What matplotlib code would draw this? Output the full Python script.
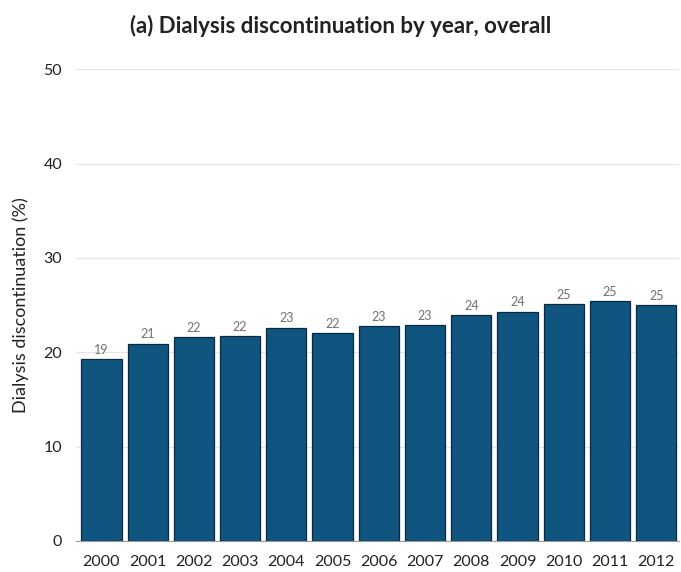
import numpy as np
import matplotlib.pyplot as plt

years = ['2000', '2001', '2002', '2003', '2004', '2005', '2006',
         '2007', '2008', '2009', '2010', '2011', '2012']
discontinued = [19.3, 20.9, 21.6, 21.7, 22.6, 22.0, 22.8,
                22.9, 23.9, 24.3, 25.1, 25.4, 25.0]

plt.rcParams['font.family'] = ['Lato', 'DejaVu Sans']

fig = plt.figure(figsize=(6.81, 5.72), dpi=100)
ax = fig.add_axes([0.1116, 0.0542, 0.886, 0.8248])

x = np.arange(len(years))
bars = ax.bar(x, discontinued, width=0.87, color='#0f5580',
              edgecolor='#0b2a40', linewidth=0.9, zorder=3)
for b, v in zip(bars, discontinued):
    ax.text(b.get_x() + b.get_width() / 2, v + 0.35, f'{v:.0f}',
            ha='center', va='bottom', fontsize=9, color='#707070')

ax.set_xlim(-0.55, len(years) - 0.5)
ax.set_ylim(0, 50)
ax.set_xticks(x)
ax.set_xticklabels(years)
ax.set_yticks(np.arange(0, 51, 10))
ax.tick_params(length=0, labelsize=11.5, colors='#222222')
ax.tick_params(axis='x', pad=10)
ax.tick_params(axis='y', pad=10)
ax.yaxis.grid(True, color='#e6e6e6', linewidth=0.9, zorder=0)

for s in ['top', 'right', 'left']:
    ax.spines[s].set_visible(False)
ax.spines['bottom'].set_color('#999999')

ax.set_ylabel('Dialysis discontinuation (%)', fontsize=13, color='#222222', labelpad=10)
fig.text(0.5, 0.955, '(a) Dialysis discontinuation by year, overall',
         ha='center', va='center', fontsize=16, fontweight='bold', color='#222222')

fig.savefig('out.png', dpi=100)
